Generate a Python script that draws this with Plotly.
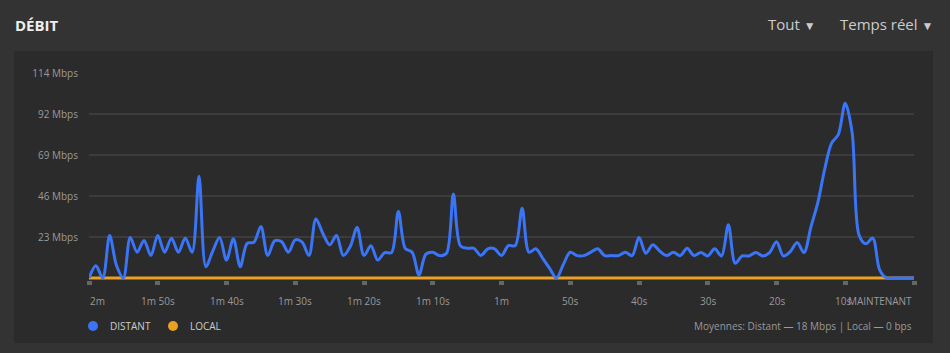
import plotly.graph_objects as go

# ---- data ----
seconds = list(range(-120, 1))  # time relative to now (s)
distant = [
    0, 6.9, 0, 23.7, 7, 0, 22.6, 14.4, 21, 12.5,          # -120..-111
    23.7, 14.4, 22.2, 14.4, 22.2, 14.4, 56.8, 6.3, 15, 22.6,  # -110..-101
    10, 21.9, 6.3, 19.4, 20, 28.8, 12.5, 20.7, 20.3, 14.4,  # -100..-91
    21.3, 20, 12.5, 33, 25, 18.5, 23.7, 12.5, 17.6, 28.2,   # -90..-81
    12.5, 18, 10, 14.2, 14.2, 37.2, 16.6, 14.4, 1.7, 13.3,  # -80..-71
    14.4, 12.5, 13.8, 46.9, 18.1, 16.6, 16.6, 12.5, 16.3, 16.3,  # -70..-61
    12.5, 18.1, 18.1, 39, 14.4, 16.3, 11, 5.4, 0, 7.6,      # -60..-51
    14.4, 12.5, 12.5, 14.4, 16.3, 12.5, 12.5, 12.5, 14.4, 12.5,  # -50..-41
    22.6, 13.8, 18.5, 15.1, 12.5, 14.4, 12.5, 16.6, 12.5, 14.2,  # -40..-31
    12.3, 16.3, 12.3, 29.7, 8.2, 12.3, 12.3, 14.2, 12.3, 14.2,  # -30..-21
    20.3, 12.3, 14.7, 19.8, 14.2, 28.4, 41.9, 60.6, 75.2, 80.2,  # -20..-11
    97.6, 81.2, 24.1, 19.1, 22.3, 4.5, 0, 0, 0, 0,          # -10..-1
    0,                                                      # 0
]
local = [0] * len(seconds)

y_tick_vals = [22.9, 45.8, 68.7, 91.6, 114.5]
y_tick_text = ["23 Mbps", "46 Mbps", "69 Mbps", "92 Mbps", "114 Mbps"]
x_tick_vals = [-120, -110, -100, -90, -80, -70, -60, -50, -40, -30, -20, -10, 0]
x_tick_text = ["2m", "1m 50s", "1m 40s", "1m 30s", "1m 20s", "1m 10s", "1m",
               "50s", "40s", "30s", "20s", "10s", "MAINTENANT"]
series_names = ["DISTANT", "LOCAL"]
series_colors = ["#3a75f7", "#e9a024"]
summary = "Moyennes: Distant — 18 Mbps | Local — 0 bps"

# ---- layout geometry (pixels) ----
W, H = 950, 353
L, R, T, B = 89, 36, 73, 73
pw, ph = W - L - R, H - T - B


def px(x):
    return (x - L) / pw


def py(y):
    return (H - B - y) / ph


FONT = "Open Sans"

fig = go.Figure()
fig.add_trace(go.Scatter(x=seconds, y=local, mode="lines", name=series_names[1],
                         line=dict(color=series_colors[1], width=3), hoverinfo="skip"))
fig.add_trace(go.Scatter(x=seconds, y=distant, mode="lines", name=series_names[0],
                         line=dict(color=series_colors[0], width=3, shape="spline", smoothing=0.9),
                         hoverinfo="skip"))

shapes = [
    dict(type="rect", xref="paper", yref="paper", x0=px(14), x1=px(933), y0=py(343), y1=py(51),
         fillcolor="#2b2b2b", line=dict(width=0), layer="below"),
]
annotations = []

# title and menus
annotations.append(dict(xref="paper", yref="paper", x=px(13), y=py(25), xanchor="left", yanchor="middle",
                        text="<b>DÉBIT</b>", showarrow=False,
                        font=dict(family=FONT, size=15, color="#eeeeee")))
annotations.append(dict(xref="paper", yref="paper", x=px(935), y=py(24), xanchor="right", yanchor="middle",
                        text="Temps réel <span style='font-size:12px'>▼</span>", showarrow=False,
                        font=dict(family=FONT, size=15, color="#cccccc")))
annotations.append(dict(xref="paper", yref="paper", x=px(818), y=py(24), xanchor="right", yanchor="middle",
                        text="Tout <span style='font-size:12px'>▼</span>", showarrow=False,
                        font=dict(family=FONT, size=15, color="#cccccc")))

# x tick labels
for i, (v, t) in enumerate(zip(x_tick_vals, x_tick_text)):
    anchor = "center"
    shift = 0
    if i == 0:
        anchor = "left"
        shift = -1
    elif i == len(x_tick_vals) - 1:
        anchor = "right"
    elif i == len(x_tick_vals) - 2:
        shift = -2
    annotations.append(dict(xref="x", yref="paper", x=v, y=py(301), xanchor=anchor, yanchor="middle",
                            text=t, showarrow=False, xshift=shift,
                            font=dict(family=FONT, size=10, color="#9a9a9a")))

# legend
leg_x = [93, 173]
for name, col, cx in zip(series_names, series_colors, leg_x):
    shapes.append(dict(type="circle", xref="paper", yref="paper",
                       x0=px(cx - 5), x1=px(cx + 5), y0=py(331), y1=py(321),
                       fillcolor=col, line=dict(width=0)))
    annotations.append(dict(xref="paper", yref="paper", x=px(cx + 15), y=py(326), xanchor="left",
                            yanchor="middle", text=name, showarrow=False,
                            font=dict(family=FONT, size=10, color="#cccccc")))

annotations.append(dict(xref="paper", yref="paper", x=px(914), y=py(326), xanchor="right", yanchor="middle",
                        text=summary, showarrow=False,
                        font=dict(family=FONT, size=10, color="#9a9a9a")))

fig.update_layout(
    width=W, height=H,
    margin=dict(l=L, r=R, t=T, b=B),
    paper_bgcolor="#333333",
    plot_bgcolor="#2b2b2b",
    showlegend=False,
    shapes=shapes,
    annotations=annotations,
    font=dict(family=FONT),
)
fig.update_xaxes(range=[-120, 0], tickvals=x_tick_vals, showticklabels=False,
                 ticks="outside", ticklen=4, tickwidth=5, tickcolor="#666666",
                 showgrid=False, zeroline=False, showline=False, fixedrange=True)
fig.update_yaxes(range=[-1.12, 114.5], tickvals=y_tick_vals, ticktext=y_tick_text,
                 showgrid=True, gridcolor="#3c3c3c", gridwidth=1.5, zeroline=False,
                 ticks="", ticklabelstandoff=10,
                 tickfont=dict(family=FONT, size=10, color="#9a9a9a"), fixedrange=True)

fig.write_html("out.html", config={"displayModeBar": False})
